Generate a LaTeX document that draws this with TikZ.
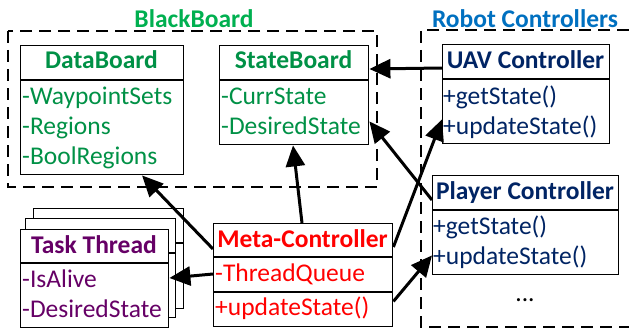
\documentclass[tikz,border=0pt]{standalone}
\usepackage{fontspec}
\setmainfont{Carlito}
\usetikzlibrary{arrows.meta}
\definecolor{grnlab}{RGB}{0,176,80}
\definecolor{grntxt}{RGB}{0,145,70}
\definecolor{navy}{RGB}{0,36,100}
\definecolor{bluelab}{RGB}{0,112,192}
\definecolor{purp}{RGB}{102,0,102}
\definecolor{redtxt}{RGB}{255,0,0}
\begin{document}
\begin{tikzpicture}[x=1pt,y=-1pt,
  cls/.style={draw, fill=white, line width=1.4pt, inner sep=0pt, anchor=north west},
  divider/.style={line width=1.4pt},
  group/.style={line width=1.3pt, dash pattern=on 12pt off 7pt},
  hd/.style={inner sep=0pt, font=\fontsize{25.5}{30}\selectfont\bfseries, text height=17pt, text depth=5pt},
  row/.style={anchor=west, inner sep=0pt, font=\fontsize{25.5}{30}\selectfont, text height=17pt, text depth=5pt},
  grplabel/.style={inner sep=0pt, font=\fontsize{25.5}{30}\selectfont\bfseries},
  conn/.style={line width=3pt, -{Triangle[length=21pt,width=19pt]}}]
\useasboundingbox (0,0) rectangle (629,329);

% group frames
\draw[group] (8,31) rectangle (377,187);
\node[grplabel, text=grnlab] (bbLabel) at (194,19) {BlackBoard};
\draw[group] (629,30) -- (421,30) -- (421,327) -- (629,327);
\node[grplabel, text=bluelab] (rcLabel) at (525,19) {Robot Controllers};

% DataBoard
\node[cls, minimum width=163pt, minimum height=129pt] (data) at (20,45) {};
\draw[divider] ([yshift=-35pt]data.north west) -- ([yshift=-35pt]data.north east);
\node[hd, text=grntxt] (dataT) at (101.5,63) {DataBoard};
\node[row, text=grntxt] (dataA) at (22,98) {-WaypointSets};
\node[row, text=grntxt] (dataB) at (22,128) {-Regions};
\node[row, text=grntxt] (dataC) at (22,158) {-BoolRegions};

% StateBoard
\node[cls, minimum width=149pt, minimum height=99pt] (state) at (219,45) {};
\draw[divider] ([yshift=-35pt]state.north west) -- ([yshift=-35pt]state.north east);
\node[hd, text=grntxt] (stateT) at (293.5,63) {StateBoard};
\node[row, text=grntxt] (stateA) at (221,98) {-CurrState};
\node[row, text=grntxt] (stateB) at (221,128) {-DesiredState};

% UAV Controller
\node[cls, minimum width=167pt, minimum height=99pt] (uav) at (442,44) {};
\draw[divider] ([yshift=-35pt]uav.north west) -- ([yshift=-35pt]uav.north east);
\node[hd, text=navy] (uavT) at (525.5,63) {UAV Controller};
\node[row, text=navy] (uavA) at (443,98) {+getState()};
\node[row, text=navy] (uavB) at (443,128) {+updateState()};

% Player Controller
\node[cls, minimum width=186pt, minimum height=99pt] (player) at (432,175) {};
\draw[divider] ([yshift=-35pt]player.north west) -- ([yshift=-35pt]player.north east);
\node[hd, text=navy] (playerT) at (525,193) {Player Controller};
\node[row, text=navy] (playerA) at (433,228) {+getState()};
\node[row, text=navy] (playerB) at (433,258) {+updateState()};
\node[inner sep=0pt, font=\fontsize{25.5}{30}\selectfont] (more) at (525,300) {...};

% Task Thread stack: two copies behind the front box
\node[cls, minimum width=150pt, minimum height=100pt] (task3) at (33,208) {};
\draw[divider] ([yshift=-35pt]task3.north west) -- ([yshift=-35pt]task3.north east);
\node[cls, minimum width=150pt, minimum height=99pt] (task2) at (25,218) {};
\draw[divider] ([yshift=-35pt]task2.north west) -- ([yshift=-35pt]task2.north east);
\node[cls, minimum width=148pt, minimum height=98pt] (task) at (20,229) {};
\draw[divider] ([yshift=-34pt]task.north west) -- ([yshift=-34pt]task.north east);
\node[hd, text=purp] (taskT) at (94,247) {Task Thread};
\node[row, text=purp] (taskA) at (22,281) {-IsAlive};
\node[row, text=purp] (taskB) at (22,311) {-DesiredState};

% Meta-Controller
\node[cls, minimum width=179pt, minimum height=103pt] (meta) at (213,223) {};
\draw[divider] ([yshift=-34pt]meta.north west) -- ([yshift=-34pt]meta.north east);
\draw[divider] ([yshift=-69pt]meta.north west) -- ([yshift=-69pt]meta.north east);
\node[hd, text=redtxt] (metaT) at (302.5,241) {Meta-Controller};
\node[row, text=redtxt] (metaA) at (215,275) {-ThreadQueue};
\node[row, text=redtxt] (metaB) at (215,309) {+updateState()};

% connectors
\draw[conn] ([yshift=-24pt]uav.north west) -- ([yshift=-24pt]state.north east);
\draw[conn] ([xshift=89pt]meta.north west) -- ([xshift=74pt]state.south west);
\draw[conn] ([yshift=-26pt]meta.north west) -- ([xshift=122pt]data.south west);
\draw[conn] ([yshift=-51pt]meta.north west) -- ([yshift=-49pt]task.north east);
\draw[conn] ([yshift=-24pt]meta.north east) -- ([yshift=25pt]uav.south west);
\draw[conn] ([yshift=-25pt]player.north west) -- ([yshift=24pt]state.south east);
\draw[conn] ([yshift=26pt]meta.south east) -- ([yshift=20pt]player.south west);
\end{tikzpicture}
\end{document}
